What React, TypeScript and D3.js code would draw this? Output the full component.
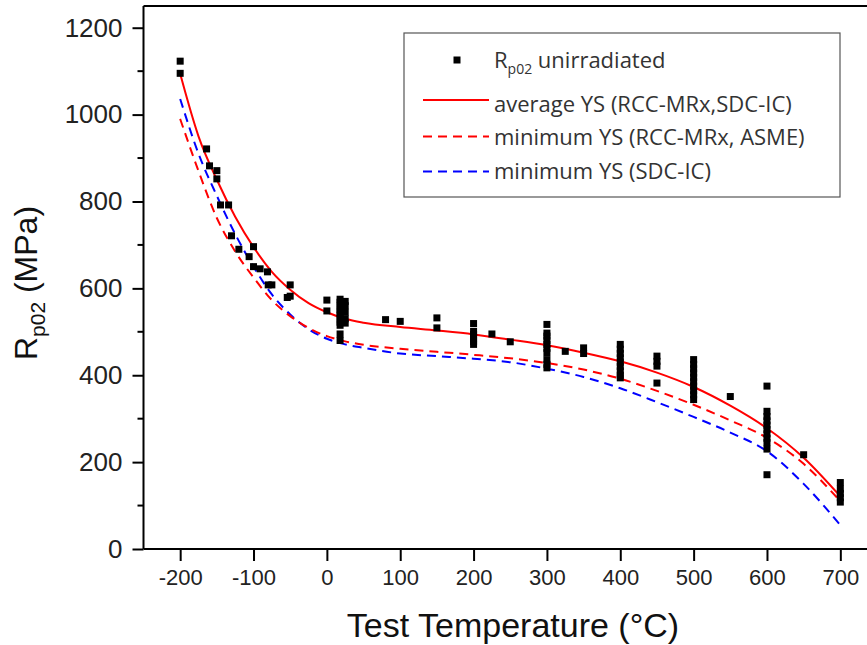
import React, { useEffect, useRef } from "react";
import * as d3 from "d3";

// measured yield strength points (test temperature, Rp02)
const pointTemp = [
  -200, -200, -164, -160, -150, -150, -145, -134, -130, -120, -106, -100, -100, -91, -81, -80, -75, -54, -50, -50,
  0, 0,
  18, 18, 18, 18, 18, 18, 18, 18, 18, 18, 18,
  25, 25, 25, 25, 25,
  80, 100, 150, 150,
  200, 200, 200, 200, 200, 200, 225, 250,
  300, 300, 300, 300, 300, 300, 300, 300, 300, 300,
  325, 350, 350,
  400, 400, 400, 400, 400, 400, 400, 400, 400,
  450, 450, 450, 450,
  500, 500, 500, 500, 500, 500, 500, 500, 500, 500,
  550,
  600, 600, 600, 600, 600, 600, 600, 600, 600, 600, 600,
  650,
  700, 700, 700, 700, 700,
];
const pointRp = [
  1123, 1095, 921, 882, 871, 852, 792, 792, 721, 690, 673, 696, 650, 645, 638, 608, 608, 579, 608, 582,
  573, 548,
  575, 568, 560, 552, 545, 538, 530, 522, 515, 495, 480,
  570, 560, 545, 530, 520,
  528, 524, 532, 509,
  519, 501, 494, 486, 478, 471, 495, 477,
  517, 497, 490, 480, 471, 462, 452, 436, 425, 417,
  455, 463, 450,
  471, 460, 450, 440, 430, 420, 410, 400, 394,
  444, 432, 421, 382,
  436, 425, 415, 405, 395, 385, 375, 365, 355, 344,
  351,
  375, 317, 305, 295, 285, 275, 265, 255, 245, 230, 171,
  217,
  153, 138, 128, 118, 108,
];

// fitted curves
const curveTemp = [-200, -175, -150, -125, -100, -75, -50, -25, 0, 25, 50, 100, 150, 200, 250, 300, 350, 400, 450, 500, 550, 600, 650, 700];
const avgYS = [1094, 950, 850, 765, 695, 638, 597, 566, 545, 530, 521, 511, 503, 494, 482, 469, 452, 432, 406, 373, 330, 278, 210, 121];
const minYSRcc = [990, 870, 762, 685, 625, 573, 536, 509, 490, 478, 470, 461, 454, 447, 439, 428, 413, 392, 364, 332, 296, 256, 196, 110];
const minYSSdc = [1036, 910, 813, 725, 650, 586, 540, 506, 484, 471, 463, 450, 444, 438, 430, 415, 396, 370, 338, 304, 268, 225, 150, 55];

const xTicks = [-200, -100, 0, 100, 200, 300, 400, 500, 600, 700];
const yTicks = [0, 200, 400, 600, 800, 1000, 1200];
const yMinorTicks = [100, 300, 500, 700, 900, 1100];

const legendLabels = [
  "unirradiated",
  "average YS (RCC-MRx,SDC-IC)",
  "minimum YS (RCC-MRx, ASME)",
  "minimum YS (SDC-IC)",
];

const W = 867;
const H = 645;

export default function App() {
  const ref = useRef<SVGSVGElement>(null);

  useEffect(() => {
    const svg = d3.select(ref.current);
    svg.selectAll("*").remove();

    const x = d3.scaleLinear().domain([-250, 750]).range([143.5, 877]);
    const y = d3.scaleLinear().domain([0, 1250]).range([549, 6]);

    // top frame line (right side is cut off by the image edge)
    svg.append("line")
      .attr("x1", x(-250)).attr("x2", x(750))
      .attr("y1", y(1250)).attr("y2", y(1250))
      .attr("stroke", "#000").attr("stroke-width", 2);

    // curves
    const line = (vals: number[]) =>
      d3.line<number>()
        .x((d, i) => x(curveTemp[i]))
        .y((d) => y(d))
        .curve(d3.curveMonotoneX)(vals);

    svg.append("path").attr("d", line(minYSSdc)).attr("fill", "none")
      .attr("stroke", "#0000ff").attr("stroke-width", 2).attr("stroke-dasharray", "9,6");
    svg.append("path").attr("d", line(minYSRcc)).attr("fill", "none")
      .attr("stroke", "#ff0000").attr("stroke-width", 2).attr("stroke-dasharray", "9,6");
    svg.append("path").attr("d", line(avgYS)).attr("fill", "none")
      .attr("stroke", "#ff0000").attr("stroke-width", 2);

    // points
    const s = 7;
    svg.selectAll(".pt")
      .data(pointTemp)
      .join("rect")
      .attr("class", "pt")
      .attr("x", (d) => x(d) - s / 2)
      .attr("y", (d, i) => y(pointRp[i]) - s / 2)
      .attr("width", s)
      .attr("height", s)
      .attr("fill", "#000");

    // axes
    const xAxis = svg.append("g")
      .attr("transform", `translate(0,${y(0)})`)
      .call(d3.axisBottom(x).tickValues(xTicks).tickSize(12).tickPadding(8).tickFormat((d) => String(d)));
    xAxis.select(".domain").attr("stroke-width", 2).attr("d", `M${x(-250)},0H${x(750)}`);
    xAxis.selectAll(".tick line").attr("stroke-width", 2);
    xAxis.selectAll(".tick text")
      .attr("font-family", "'Liberation Sans', Arial, sans-serif")
      .attr("font-size", 22).attr("fill", "#222");

    const yAxis = svg.append("g")
      .attr("transform", `translate(${x(-250)},0)`)
      .call(d3.axisLeft(y).tickValues(yTicks).tickSize(11).tickPadding(10).tickFormat((d) => String(d)));
    yAxis.select(".domain").attr("stroke-width", 2).attr("d", `M0,${y(0)}V${y(1250)}`);
    yAxis.selectAll(".tick line").attr("stroke-width", 2);
    yAxis.selectAll(".tick text")
      .attr("font-family", "'Liberation Sans', Arial, sans-serif")
      .attr("font-size", 26).attr("fill", "#222");

    svg.append("g")
      .selectAll("line")
      .data(yMinorTicks)
      .join("line")
      .attr("x1", x(-250) - 6).attr("x2", x(-250))
      .attr("y1", (d) => y(d)).attr("y2", (d) => y(d))
      .attr("stroke", "#000").attr("stroke-width", 2);

    // axis titles
    svg.append("text")
      .attr("x", 513).attr("y", 637)
      .attr("text-anchor", "middle")
      .attr("font-family", "'Liberation Sans', Arial, sans-serif")
      .attr("font-size", 34).attr("fill", "#111")
      .text("Test Temperature (°C)");

    const yt = svg.append("text")
      .attr("transform", "translate(37,283) rotate(-90)")
      .attr("text-anchor", "middle")
      .attr("font-family", "'Liberation Sans', Arial, sans-serif")
      .attr("font-size", 32).attr("fill", "#111");
    yt.append("tspan").text("R");
    yt.append("tspan").attr("font-size", 21).attr("dy", 8).text("p02");
    yt.append("tspan").attr("dy", -8).text(" (MPa)");

    // legend
    const lg = svg.append("g");
    lg.append("rect")
      .attr("x", 404).attr("y", 33).attr("width", 436).attr("height", 164)
      .attr("fill", "#fff").attr("stroke", "#555").attr("stroke-width", 1.2);
    const rowY = [60, 100, 136.5, 171.5];
    const baseY = [68, 111.5, 145, 179];
    const font = "'Open Sans', 'Noto Sans', sans-serif";
    lg.append("rect").attr("x", 457 - 3.5).attr("y", rowY[0] - 3.5).attr("width", 7).attr("height", 7).attr("fill", "#000");
    const styles = [
      { c: "#ff0000", dash: null },
      { c: "#ff0000", dash: "9,6" },
      { c: "#0000ff", dash: "9,6" },
    ];
    styles.forEach((st, i) => {
      lg.append("line")
        .attr("x1", 423).attr("x2", 489)
        .attr("y1", rowY[i + 1]).attr("y2", rowY[i + 1])
        .attr("stroke", st.c).attr("stroke-width", 2)
        .attr("stroke-dasharray", st.dash);
    });
    const t0 = lg.append("text").attr("x", 494).attr("y", baseY[0])
      .attr("font-family", font).attr("font-size", 22).attr("fill", "#333");
    t0.append("tspan").text("R");
    t0.append("tspan").attr("font-size", 14).attr("dy", 6).text("p02");
    t0.append("tspan").attr("dy", -6).text(" " + legendLabels[0]);
    legendLabels.slice(1).forEach((lab, i) => {
      lg.append("text").attr("x", 494).attr("y", baseY[i + 1])
        .attr("font-family", font).attr("font-size", 22).attr("fill", "#333")
        .text(lab);
    });
  }, []);

  return (
    <svg ref={ref} width={W} height={H} style={{ position: "absolute", left: 0, top: 0, background: "#fff" }} />
  );
}
